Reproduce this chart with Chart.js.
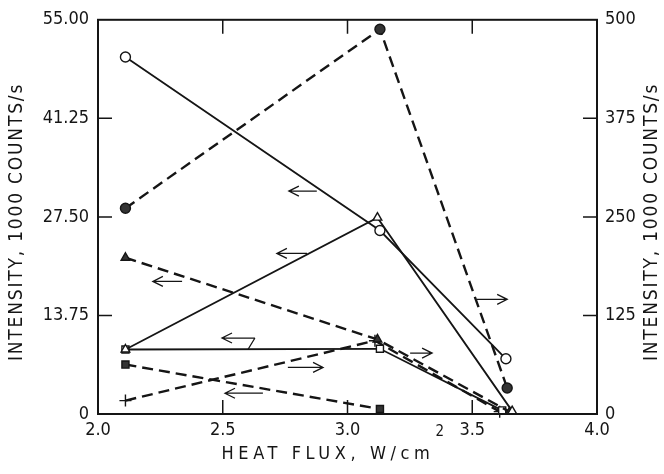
<!DOCTYPE html>
<html>
<head>
<meta charset="utf-8">
<script src="https://cdn.jsdelivr.net/npm/chart.js@4.4.1/dist/chart.umd.min.js"></script>
<style>
  html, body { margin: 0; background: #fff; }
</style>
</head>
<body>
<canvas id="chart" width="664" height="474"></canvas>
<script>
// Tick values
const xTicks = [2.0, 2.5, 3.0, 3.5, 4.0];
const leftTicks = [0, 13.75, 27.5, 41.25, 55];
const rightTicks = [0, 125, 250, 375, 500];

// Series (x = heat flux, y = intensity)
const openCircleX = [2.11, 3.13, 3.635];
const openCircleY = [49.8, 25.6, 7.7];          // left axis

const openTriangleX = [2.11, 3.12, 3.66];
const openTriangleY = [9.0, 27.4, 0.4];         // left axis

const filledTriangleX = [2.11, 3.12, 3.65];
const filledTriangleY = [21.8, 10.4, 0.3];      // left axis

const openSquareX = [2.11, 3.13, 3.62];
const openSquareY = [9.0, 9.1, 0.5];            // left axis

const filledSquareX = [2.11, 3.13];
const filledSquareY = [6.9, 0.7];               // left axis

const plusX = [2.11, 3.11, 3.61];
const plusY = [17, 93, 3];                      // right axis

const filledCircleX = [2.11, 3.13, 3.64];
const filledCircleY = [261, 488, 33];           // right axis

// Arrow annotations (x, left-axis y)
const arrows = [
    { from: [2.877, 31.1], to: [2.765, 31.1] },
    { from: [2.838, 22.4], to: [2.717, 22.4] },
    { from: [2.337, 18.5], to: [2.220, 18.5] },
    { from: [2.629, 10.6], to: [2.497, 10.6], leader: [2.601, 9.0] },
    { from: [2.761, 6.5], to: [2.902, 6.5] },
    { from: [2.661, 2.9], to: [2.509, 2.9] },
    { from: [3.251, 8.5], to: [3.339, 8.5] },
    { from: [3.519, 16.0], to: [3.640, 16.0] }
];

const INK = '#151515';
const FONT = "'DejaVu Sans Condensed', 'DejaVu Sans', sans-serif";
const tickFont = { family: FONT, size: 18 };

function pts(xs, ys) {
    return xs.map((x, i) => ({ x: x, y: ys[i] }));
}

function makeSet(label, xs, ys, axis, style, filled, dashed) {
    return {
        label: label,
        data: pts(xs, ys),
        yAxisID: axis,
        borderColor: INK,
        borderWidth: dashed ? 2.4 : 1.8,
        borderDash: dashed ? [11, 6] : [],
        pointStyle: style,
        pointRadius: style === 'cross' ? 6 : 5,
        pointBorderWidth: 1.4,
        pointBorderColor: INK,
        pointBackgroundColor: filled ? '#333' : '#fff',
        fill: false,
        tension: 0,
        clip: false
    };
}

// Frame, inward ticks, arrows and axis titles
const decorPlugin = {
    id: 'decor',
    afterDraw(chart) {
        const ctx = chart.ctx;
        const area = chart.chartArea;
        const sx = chart.scales.x, sy = chart.scales.y, sy2 = chart.scales.y2;
        ctx.save();
        ctx.strokeStyle = INK;
        ctx.lineWidth = 2;
        ctx.strokeRect(area.left, area.top, area.right - area.left, area.bottom - area.top);

        // inward tick marks
        ctx.lineWidth = 1.5;
        const len = 14;
        ctx.beginPath();
        xTicks.slice(1, -1).forEach(v => {
            const p = sx.getPixelForValue(v);
            ctx.moveTo(p, area.bottom); ctx.lineTo(p, area.bottom - len);
            ctx.moveTo(p, area.top); ctx.lineTo(p, area.top + len);
        });
        leftTicks.slice(1, -1).forEach(v => {
            const p = sy.getPixelForValue(v);
            ctx.moveTo(area.left, p); ctx.lineTo(area.left + len, p);
        });
        rightTicks.slice(1, -1).forEach(v => {
            const p = sy2.getPixelForValue(v);
            ctx.moveTo(area.right, p); ctx.lineTo(area.right - len, p);
        });
        ctx.stroke();

        // arrows
        ctx.lineWidth = 1.3;
        arrows.forEach(a => {
            const x1 = sx.getPixelForValue(a.from[0]), y1 = sy.getPixelForValue(a.from[1]);
            const x2 = sx.getPixelForValue(a.to[0]), y2 = sy.getPixelForValue(a.to[1]);
            const dir = Math.sign(x2 - x1);
            ctx.beginPath();
            ctx.moveTo(x1, y1); ctx.lineTo(x2, y2);
            ctx.moveTo(x2 - dir * 10, y2 - 5); ctx.lineTo(x2, y2); ctx.lineTo(x2 - dir * 10, y2 + 5);
            if (a.leader) {
                ctx.moveTo(x1, y1);
                ctx.lineTo(sx.getPixelForValue(a.leader[0]), sy.getPixelForValue(a.leader[1]));
            }
            ctx.stroke();
        });

        // axis titles
        ctx.fillStyle = INK;
        ctx.textBaseline = 'middle';
        ctx.font = '18px ' + FONT;
        ctx.letterSpacing = '4.6px';
        const xt = 'HEAT FLUX, W/cm';
        const w = ctx.measureText(xt).width;
        const x0 = 328 - w / 2;
        ctx.textAlign = 'left';
        ctx.fillText(xt, x0, 454);
        ctx.font = '15px ' + FONT;
        ctx.letterSpacing = '0px';
        ctx.fillText('2', x0 + w + 1, 432);

        ctx.font = '19px ' + FONT;
        ctx.letterSpacing = '1.8px';
        ctx.textAlign = 'center';
        const yt = 'INTENSITY, 1000 COUNTS/s';
        [17, 652].forEach(px => {
            ctx.save();
            ctx.translate(px, 222);
            ctx.rotate(-Math.PI / 2);
            ctx.fillText(yt, 0, 0);
            ctx.restore();
        });
        ctx.restore();
    }
};

const ctx = document.getElementById('chart').getContext('2d');
new Chart(ctx, {
    type: 'line',
    data: {
        datasets: [
            makeSet('open circle', openCircleX, openCircleY, 'y', 'circle', false, false),
            makeSet('open triangle', openTriangleX, openTriangleY, 'y', 'triangle', false, false),
            makeSet('filled triangle', filledTriangleX, filledTriangleY, 'y', 'triangle', true, true),
            makeSet('open square', openSquareX, openSquareY, 'y', 'rect', false, false),
            makeSet('filled square', filledSquareX, filledSquareY, 'y', 'rect', true, true),
            makeSet('plus', plusX, plusY, 'y2', 'cross', false, true),
            makeSet('filled circle', filledCircleX, filledCircleY, 'y2', 'circle', true, true)
        ]
    },
    options: {
        responsive: false,
        animation: false,
        layout: { padding: { top: 18, left: 0, right: 0, bottom: 0 } },
        plugins: {
            legend: { display: false },
            tooltip: { enabled: false }
        },
        scales: {
            x: {
                type: 'linear',
                min: 2, max: 4,
                afterBuildTicks: s => { s.ticks = xTicks.map(v => ({ value: v })); },
                afterFit: s => { s.height = 60; },
                ticks: { font: tickFont, color: INK, padding: 6, callback: v => v.toFixed(1) },
                grid: { display: false, drawTicks: false },
                border: { display: false }
            },
            y: {
                position: 'left',
                min: 0, max: 55,
                afterBuildTicks: s => { s.ticks = leftTicks.map(v => ({ value: v })); },
                afterFit: s => { s.width = 98; },
                ticks: { font: tickFont, color: INK, padding: 9, callback: v => v === 0 ? '0' : v.toFixed(2) },
                grid: { display: false, drawTicks: false },
                border: { display: false }
            },
            y2: {
                position: 'right',
                min: 0, max: 500,
                afterBuildTicks: s => { s.ticks = rightTicks.map(v => ({ value: v })); },
                afterFit: s => { s.width = 67; },
                ticks: { font: tickFont, color: INK, padding: 8, callback: v => String(v) },
                grid: { display: false, drawTicks: false },
                border: { display: false }
            }
        }
    },
    plugins: [decorPlugin]
});
</script>
</body>
</html>
